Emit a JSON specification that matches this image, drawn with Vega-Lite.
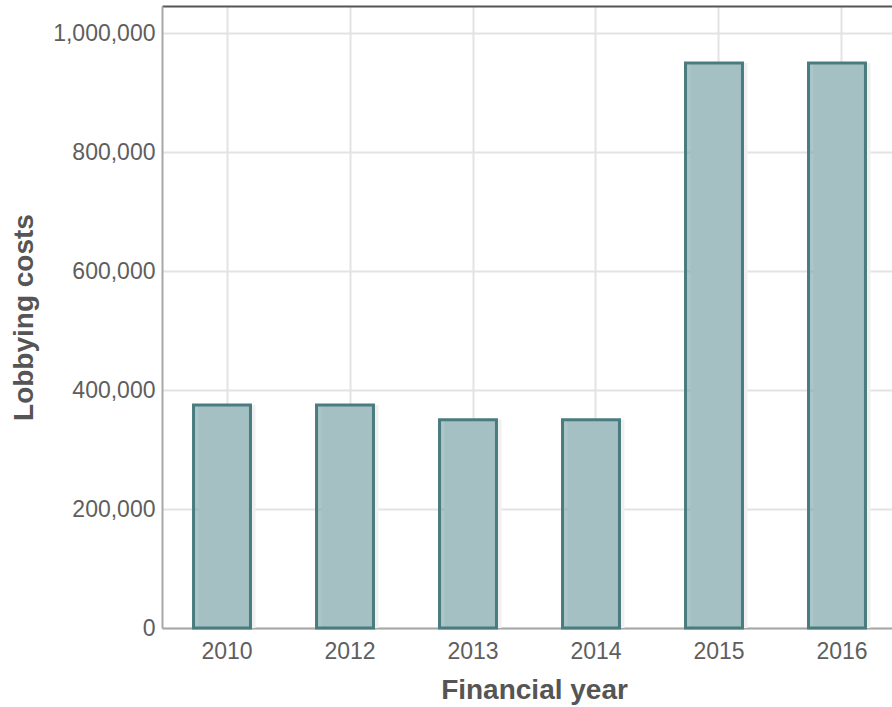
{
  "$schema": "https://vega.github.io/schema/vega-lite/v6.json",
  "width": 730,
  "height": 622,
  "autosize": {"type": "none"},
  "padding": {"left": 162, "top": 6, "right": 0, "bottom": 79},
  "config": {"view": {"stroke": null}, "font": "Liberation Sans"},
  "data": {
    "values": [
      {"year": "2010", "cost": 375000},
      {"year": "2012", "cost": 375000},
      {"year": "2013", "cost": 350000},
      {"year": "2014", "cost": 350000},
      {"year": "2015", "cost": 950000},
      {"year": "2016", "cost": 950000}
    ]
  },
  "encoding": {
    "y": {
      "field": "cost",
      "type": "quantitative",
      "scale": {"domain": [0, 1046000], "nice": false, "zero": true},
      "axis": {
        "title": "Lobbying costs",
        "values": [0, 200000, 400000, 600000, 800000, 1000000],
        "format": ",.0f",
        "grid": true,
        "gridColor": "#e3e3e3",
        "gridWidth": 2,
        "ticks": false,
        "labelPadding": 7,
        "labelFontSize": 23,
        "labelColor": "#5e5e5e",
        "domainColor": "#a8a8a8",
        "domainWidth": 2,
        "titleFontSize": 28,
        "titleFontWeight": "bold",
        "titleColor": "#555555",
        "titleX": -130,
        "titleY": 311,
        "titleAngle": -90,
        "titleAlign": "center",
        "titleBaseline": "alphabetic"
      }
    }
  },
  "layer": [
    {
      "mark": {"type": "bar", "color": "#f0f0f0"},
      "encoding": {
        "x": {
          "field": "year",
          "type": "ordinal",
          "scale": {"range": [0, 745], "paddingInner": 0.537, "paddingOuter": 0.297},
          "axis": {"orient": "top", "labels": false, "ticks": false, "grid": false, "tickExtra": false, "domainColor": "#555555", "domainWidth": 2, "title": null}
        }
      }
    },
    {
      "mark": {"type": "bar", "fill": "#72a0a4", "fillOpacity": 0.6, "stroke": "#4a7c7f", "strokeWidth": 3, "xOffset": -5},
      "encoding": {
        "x": {
          "field": "year",
          "type": "ordinal",
          "axis": {
            "orient": "bottom",
            "grid": true,
            "gridColor": "#e3e3e3",
            "gridWidth": 2,
            "bandPosition": 0.5,
            "tickExtra": false,
            "ticks": false,
            "labelPadding": 12,
            "labelFontSize": 23,
            "labelColor": "#5e5e5e",
            "labelAngle": 0,
            "domainColor": "#a8a8a8",
            "domainWidth": 2,
            "title": "Financial year",
            "titleFontSize": 28,
            "titleFontWeight": "bold",
            "titleColor": "#555555",
            "titleX": 372,
            "titleY": 70,
            "titleAlign": "center",
            "titleBaseline": "alphabetic"
          }
        }
      }
    }
  ],
  "resolve": {"axis": {"x": "independent"}}
}
